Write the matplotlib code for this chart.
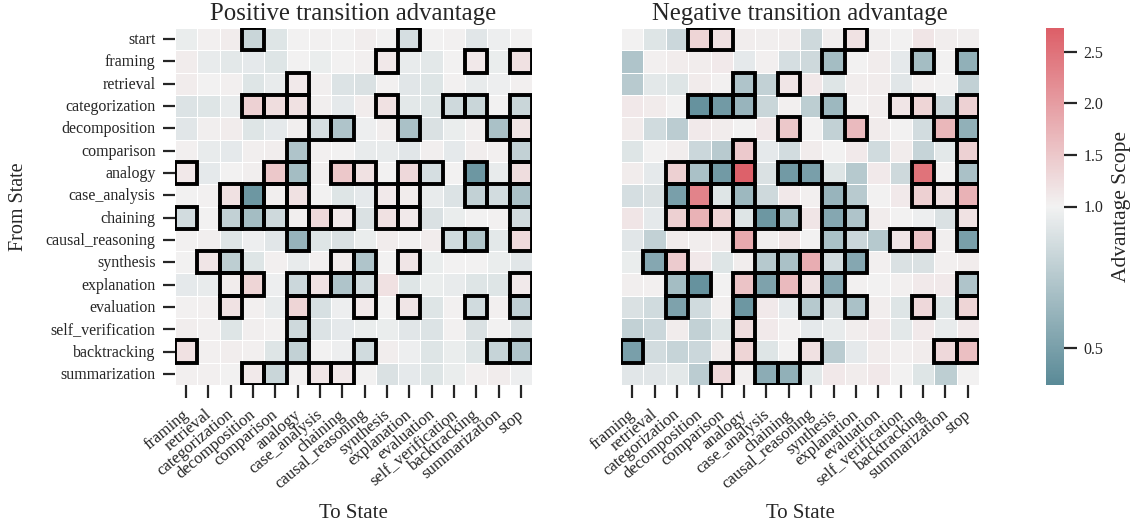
import numpy as np
import matplotlib
matplotlib.use('Agg')
import matplotlib.pyplot as plt
from matplotlib.colors import LinearSegmentedColormap, TwoSlopeNorm
from matplotlib.patches import Rectangle
from matplotlib.transforms import ScaledTranslation

INK = '#262626'

plt.rcParams.update({
    'font.family': ['Liberation Serif', 'DejaVu Serif'],
    'text.color': INK,
    'axes.labelcolor': INK,
    'xtick.color': INK,
    'ytick.color': INK,
})

from_states = ['start', 'framing', 'retrieval', 'categorization', 'decomposition',
               'comparison', 'analogy', 'case_analysis', 'chaining', 'causal_reasoning',
               'synthesis', 'explanation', 'evaluation', 'self_verification',
               'backtracking', 'summarization']
to_states = ['framing', 'retrieval', 'categorization', 'decomposition', 'comparison',
             'analogy', 'case_analysis', 'chaining', 'causal_reasoning', 'synthesis',
             'explanation', 'evaluation', 'self_verification', 'backtracking',
             'summarization', 'stop']

# rows = from state
pos_values = [
    [0.97, 1.03, 1.07, 0.83, 0.92, 1.00, 1.02, 1.00, 1.06, 1.00, 0.88, 1.00, 1.02, 0.93, 0.98, 1.00],
    [1.08, 0.96, 0.94, 0.95, 0.92, 1.00, 0.97, 1.01, 1.03, 1.12, 0.96, 0.94, 1.00, 1.12, 0.97, 1.20],
    [1.07, 1.01, 1.04, 0.92, 0.96, 1.10, 1.05, 0.91, 0.90, 1.02, 0.93, 0.92, 1.02, 0.96, 0.98, 1.04],
    [0.91, 0.92, 0.96, 1.38, 1.25, 1.20, 1.05, 0.95, 1.07, 1.20, 0.94, 0.92, 0.85, 0.83, 1.01, 0.83],
    [0.93, 1.05, 1.08, 0.92, 0.95, 1.05, 0.88, 0.72, 0.98, 1.06, 0.70, 0.90, 0.97, 1.05, 0.70, 1.17],
    [1.04, 0.96, 0.95, 1.05, 1.06, 0.72, 1.03, 1.00, 0.96, 0.96, 0.93, 1.05, 0.95, 1.06, 1.03, 0.80],
    [1.12, 0.95, 1.00, 1.05, 1.50, 0.68, 1.05, 1.50, 1.20, 1.00, 1.30, 0.88, 1.01, 0.45, 0.96, 1.25],
    [1.00, 1.02, 1.20, 0.45, 1.05, 1.20, 1.01, 0.92, 0.95, 1.10, 1.08, 0.96, 0.91, 0.80, 0.87, 0.70],
    [0.87, 1.01, 0.80, 0.68, 0.85, 1.05, 1.30, 1.10, 0.90, 1.20, 1.10, 0.90, 0.97, 1.00, 1.02, 0.87],
    [1.02, 1.05, 0.92, 0.98, 0.93, 0.62, 0.92, 0.90, 0.97, 1.08, 1.03, 1.08, 0.86, 0.73, 0.94, 1.28],
    [1.00, 1.15, 0.78, 0.92, 1.03, 0.96, 1.03, 1.08, 0.72, 1.00, 1.15, 0.97, 1.00, 1.01, 0.97, 0.93],
    [0.95, 0.96, 1.08, 1.35, 0.98, 0.84, 1.18, 0.72, 0.87, 1.20, 0.92, 0.97, 0.96, 0.92, 0.92, 1.10],
    [1.02, 1.03, 1.18, 1.04, 0.96, 1.35, 0.89, 0.98, 1.10, 1.00, 1.15, 0.92, 1.02, 0.86, 1.03, 0.79],
    [1.06, 1.03, 0.92, 1.05, 1.02, 0.85, 0.91, 0.95, 0.97, 0.97, 0.93, 0.91, 1.02, 0.90, 1.01, 0.90],
    [1.20, 1.04, 1.06, 1.04, 0.92, 0.80, 1.01, 0.98, 0.86, 1.06, 0.98, 0.92, 0.97, 0.92, 0.82, 0.72],
    [1.03, 1.03, 1.01, 1.10, 0.83, 1.02, 1.15, 1.12, 1.00, 0.90, 0.95, 0.92, 0.97, 1.04, 1.07, 0.98],
]
neg_values = [
    [1.00, 0.92, 0.84, 1.35, 1.20, 1.06, 1.05, 1.06, 0.85, 1.05, 1.18, 1.05, 1.00, 1.15, 1.06, 1.05],
    [0.72, 1.03, 1.07, 1.08, 1.10, 0.95, 1.04, 0.88, 0.85, 0.68, 1.01, 1.07, 0.95, 0.68, 1.00, 0.60],
    [0.76, 0.94, 0.92, 1.09, 1.02, 0.72, 0.80, 1.15, 1.12, 0.92, 1.06, 1.08, 0.93, 1.03, 1.00, 0.80],
    [1.12, 1.09, 1.01, 0.42, 0.47, 0.63, 0.83, 1.03, 0.78, 0.65, 1.02, 1.07, 1.15, 1.35, 0.85, 1.38],
    [1.09, 0.86, 0.77, 1.10, 1.07, 1.00, 1.13, 1.50, 1.00, 0.80, 1.65, 1.09, 1.00, 0.87, 1.70, 0.60],
    [0.92, 1.00, 1.06, 0.84, 0.76, 1.48, 0.95, 0.87, 1.07, 1.00, 1.10, 0.86, 1.08, 0.82, 0.94, 1.38],
    [1.08, 0.95, 1.40, 0.70, 0.47, 2.70, 0.90, 0.47, 0.50, 0.92, 0.75, 1.10, 0.85, 2.50, 1.00, 0.70],
    [0.88, 0.90, 0.50, 2.30, 0.92, 0.65, 0.85, 1.12, 1.03, 0.63, 0.76, 1.00, 1.10, 1.40, 1.20, 1.75],
    [1.15, 0.95, 1.40, 1.75, 1.35, 0.92, 0.45, 0.68, 1.15, 0.55, 0.72, 1.08, 1.00, 0.98, 0.90, 1.18],
    [0.93, 0.80, 1.07, 1.06, 1.08, 1.85, 1.05, 1.15, 1.00, 0.70, 0.84, 0.75, 1.15, 1.55, 1.05, 0.50],
    [0.97, 0.55, 1.45, 1.12, 0.92, 1.06, 0.75, 0.70, 1.80, 0.87, 0.55, 1.03, 0.90, 0.90, 1.03, 1.08],
    [1.05, 1.03, 0.68, 0.42, 1.00, 1.55, 0.52, 1.65, 1.20, 0.55, 1.02, 1.00, 1.03, 1.10, 1.10, 0.72],
    [0.90, 0.86, 0.52, 0.86, 1.04, 0.45, 1.10, 0.95, 0.75, 0.90, 0.70, 1.06, 0.92, 1.30, 0.92, 1.35],
    [0.80, 0.84, 1.07, 0.80, 0.92, 1.25, 1.10, 1.02, 0.95, 0.96, 1.06, 1.10, 0.94, 1.10, 0.96, 1.10],
    [0.50, 0.87, 0.82, 0.84, 1.08, 1.35, 0.92, 1.00, 1.20, 0.77, 0.95, 1.07, 1.04, 1.07, 1.30, 1.60],
    [0.93, 0.93, 0.94, 0.77, 1.30, 1.03, 0.58, 0.60, 0.94, 1.12, 1.07, 1.12, 1.00, 0.92, 0.78, 1.00],
]

# outlined (significant) columns per row
pos_boxed = [[3, 10], [9, 13, 15], [5], [3, 4, 5, 9, 12, 13, 15], [6, 7, 10, 14, 15], [5, 15],
             [0, 4, 5, 7, 8, 10, 11, 13, 15], [2, 3, 4, 5, 9, 10, 13, 14, 15],
             [0, 2, 3, 4, 5, 6, 7, 9, 10, 15], [5, 12, 13, 15], [1, 2, 7, 8, 10],
             [2, 3, 5, 6, 7, 8, 15], [2, 5, 8, 10, 13, 15], [5], [0, 5, 8, 14, 15],
             [3, 4, 6, 7]]
neg_boxed = [[3, 4, 10], [9, 13, 15], [5, 7], [3, 4, 5, 9, 12, 13, 15], [7, 10, 14, 15],
             [5, 15], [2, 3, 4, 5, 7, 8, 13, 15], [2, 3, 4, 5, 9, 13, 14, 15],
             [2, 3, 4, 5, 6, 7, 9, 10, 15], [5, 9, 12, 13, 15], [1, 2, 6, 7, 8, 9, 10],
             [2, 3, 5, 6, 7, 8, 9, 15], [2, 5, 8, 10, 13, 15], [5], [0, 5, 8, 14, 15],
             [4, 6, 7]]

cbar_ticks = [0.5, 1.0, 1.5, 2.0, 2.5]

W, H = 1137, 524
cmap = LinearSegmentedColormap.from_list('adv', ['#5a8a97', '#f2f2f2', '#dd5f68'])
norm = TwoSlopeNorm(vmin=0.37, vcenter=1.0, vmax=2.73)

fig = plt.figure(figsize=(W / 100, H / 100), dpi=100, facecolor='white')


def px_axes(x0, x1, y0, y1):
    return fig.add_axes([x0 / W, 1 - y1 / H, (x1 - x0) / W, (y1 - y0) / H])


def draw_panel(ax, values, boxed, title):
    mesh = ax.pcolormesh(np.array(values), cmap=cmap, norm=norm,
                         edgecolors='white', linewidth=0.4)
    ax.invert_yaxis()
    for r, cols in enumerate(boxed):
        for c in cols:
            ax.add_patch(Rectangle((c, r), 1, 1, fill=False, edgecolor='black', linewidth=2.8))
    for s in ax.spines.values():
        s.set_visible(False)
    ax.set_xticks(np.arange(16) + 0.5)
    ax.set_xticklabels(to_states, rotation=40, ha='right', fontsize=12)
    ax.tick_params(axis='both', length=9, width=1.6, pad=5)
    ax.tick_params(axis='x', pad=6.5)
    # labels sit a little to the right of their ticks
    shift = ScaledTranslation(6 / 100, 0, fig.dpi_scale_trans)
    for lab in ax.get_xticklabels():
        lab.set_transform(lab.get_transform() + shift)
    ax.set_title(title, fontsize=17.8, pad=5.5)
    ax.set_xlabel('To State', fontsize=15, labelpad=8.5)
    return mesh


ax1 = px_axes(175, 532, 28, 385)
ax2 = px_axes(621, 979, 28, 385)
mesh = draw_panel(ax1, pos_values, pos_boxed, 'Positive transition advantage')
draw_panel(ax2, neg_values, neg_boxed, 'Negative transition advantage')

ax1.set_yticks(np.arange(16) + 0.5)
ax1.set_yticklabels(from_states, fontsize=11.5)
up = ScaledTranslation(0, 1 / 100, fig.dpi_scale_trans)
for lab in ax1.get_yticklabels():
    lab.set_transform(lab.get_transform() + up)
ax1.set_ylabel('From State', fontsize=14.5, labelpad=12.7)
ax2.set_yticks(np.arange(16) + 0.5)
ax2.set_yticklabels([])
ax2.tick_params(axis='y', left=False)

cax = px_axes(1046, 1064, 28, 385)
cb = fig.colorbar(mesh, cax=cax)
cb.set_ticks(cbar_ticks)
cb.ax.tick_params(length=9, width=1.6, pad=5, labelsize=11.5)
cb.ax.minorticks_off()
cb.outline.set_visible(False)
cb.set_label('Advantage Scope', fontsize=15.5, labelpad=6)

fig.savefig('out.png', dpi=100)
